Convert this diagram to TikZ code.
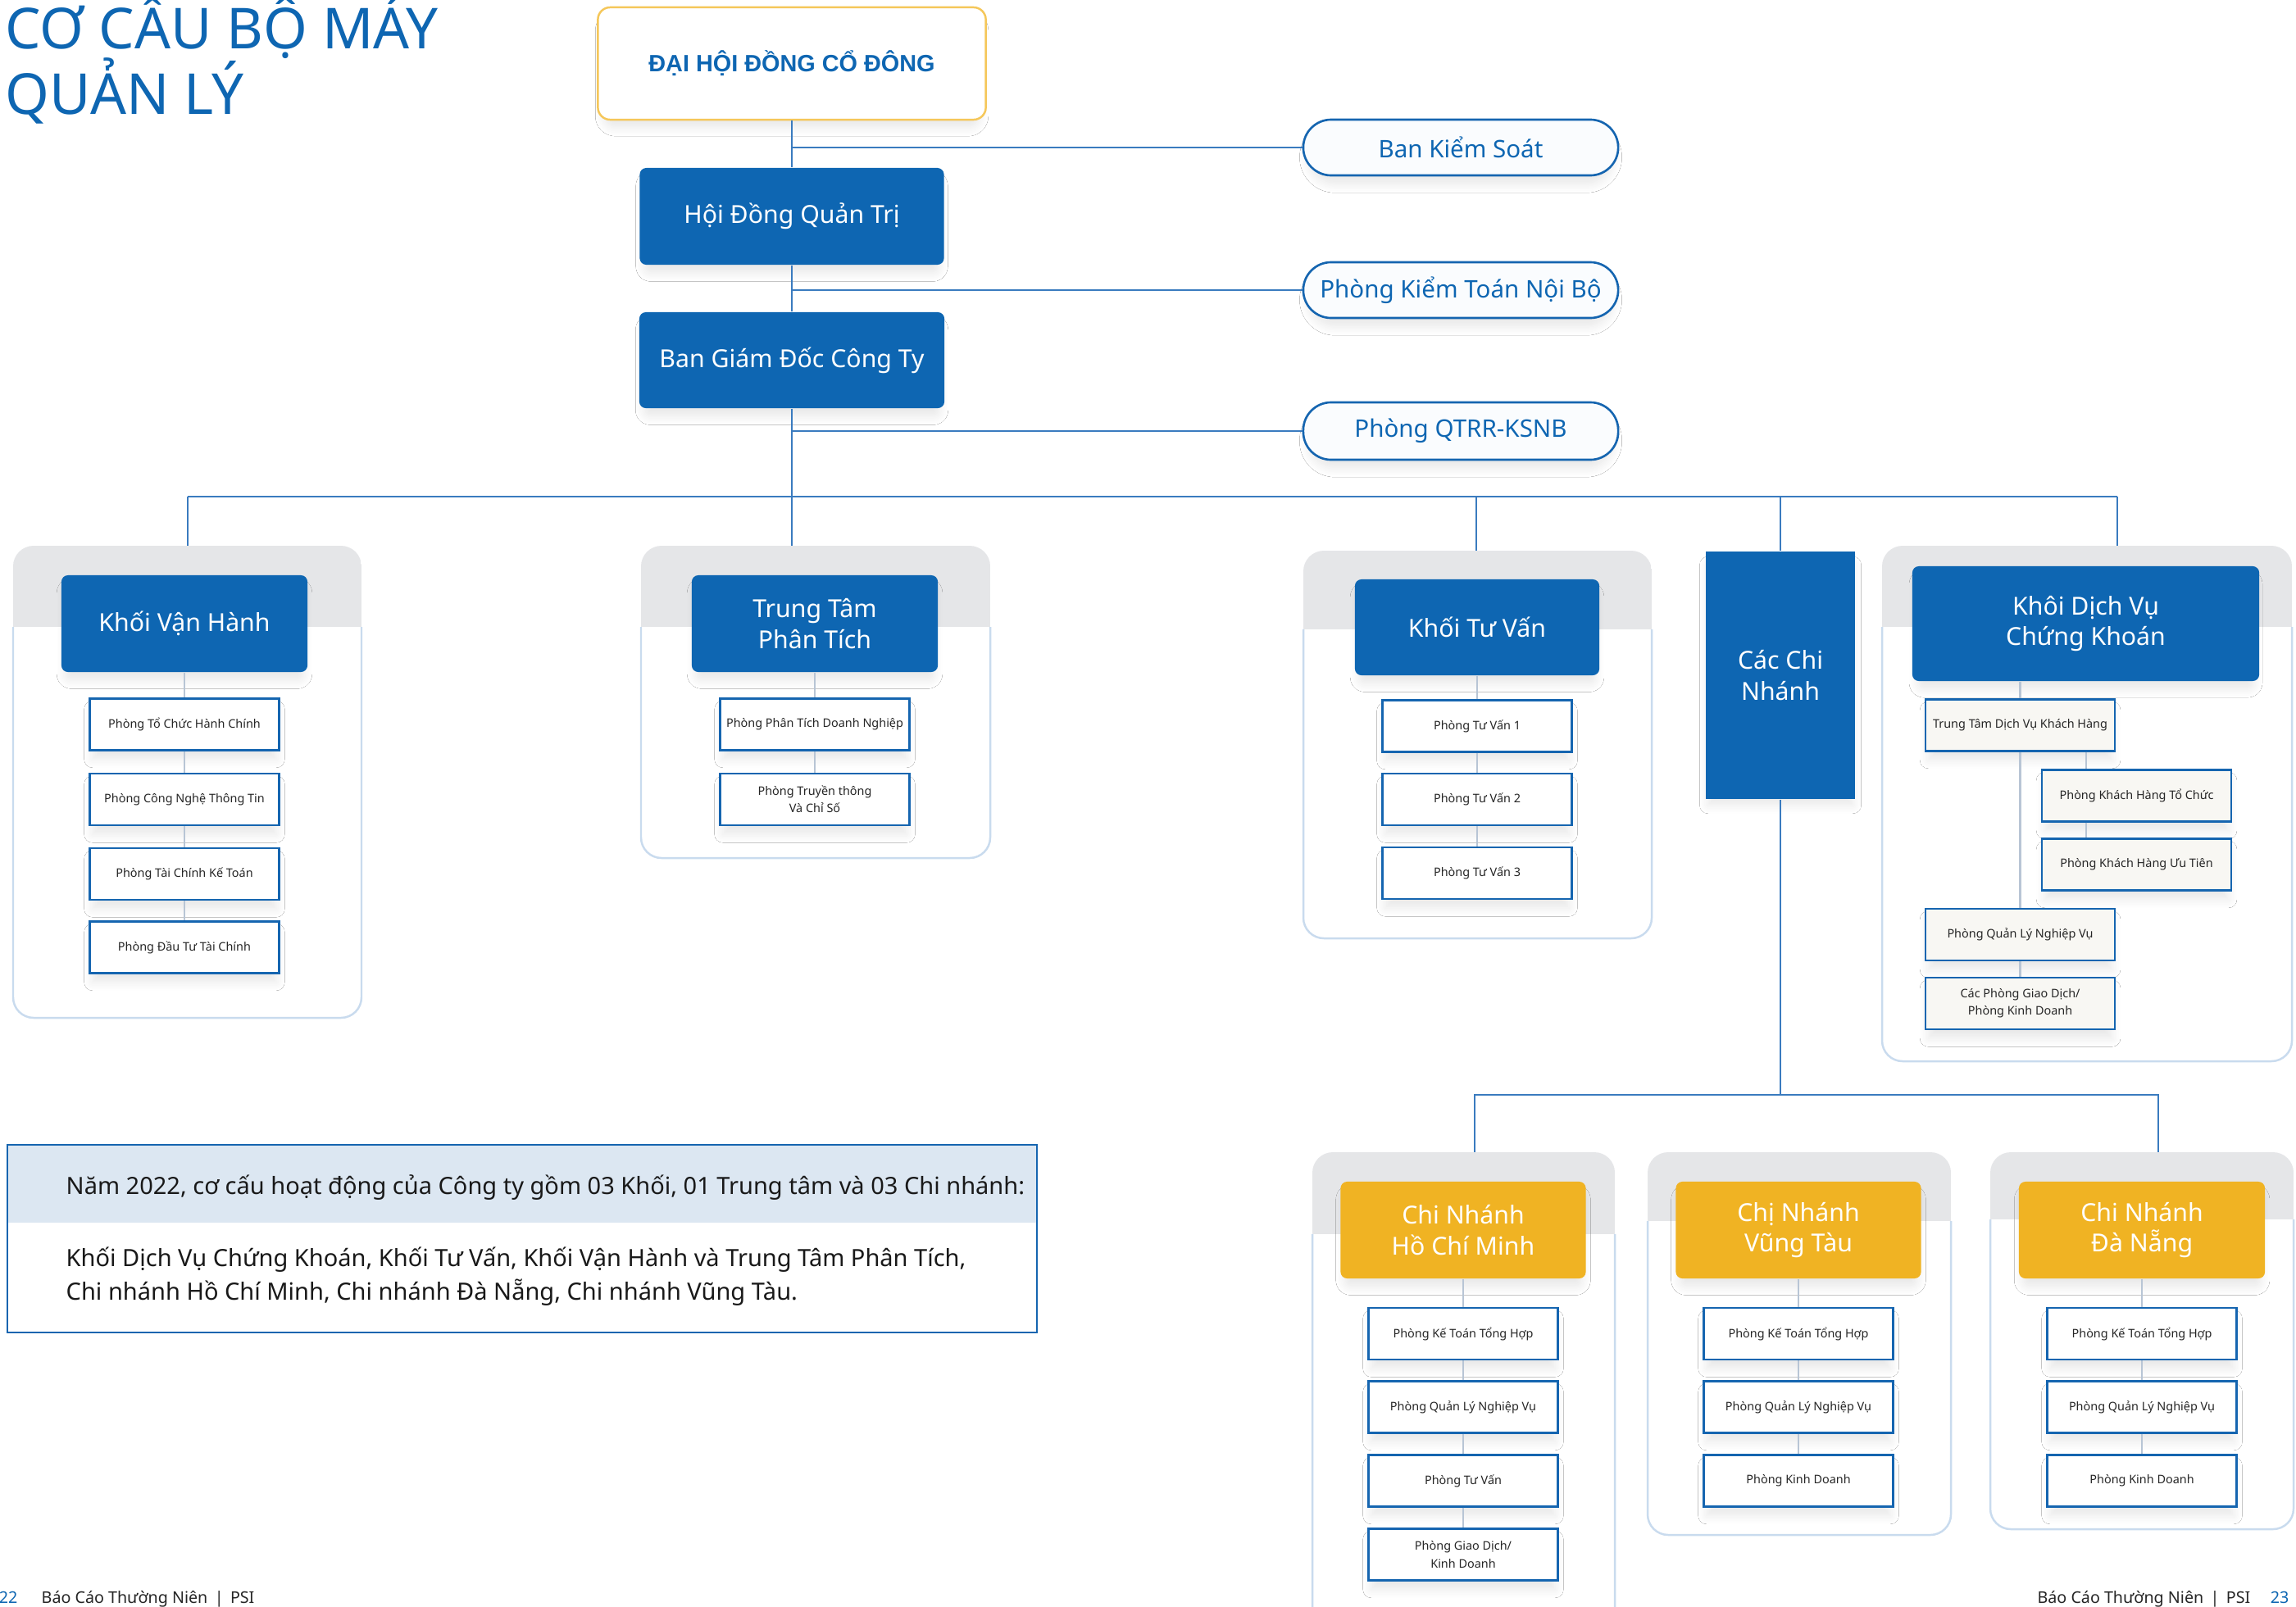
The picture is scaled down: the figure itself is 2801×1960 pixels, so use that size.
\documentclass[tikz,border=0pt]{standalone}
\usepackage{fontspec}
\setmainfont{Noto Sans}
\newfontfamily\boldlib{Liberation Sans}
\usetikzlibrary{shadows.blur}
\definecolor{mblue}{HTML}{0E66B2}
\definecolor{lblue}{HTML}{3A7BBF}
\definecolor{sblue}{HTML}{1565B0}
\definecolor{orng}{HTML}{F0B323}
\definecolor{orngb}{HTML}{F5C75A}
\definecolor{bandgray}{HTML}{E5E6E8}
\definecolor{pborder}{HTML}{C9DBEE}
\definecolor{inner}{HTML}{B8C5D5}
\definecolor{infoband}{HTML}{DCE7F2}
\definecolor{pillfill}{HTML}{FAFCFE}
\definecolor{dvfill}{HTML}{F8F7F3}
\newcommand\fHdr{\fontsize{8.6pt}{10.7pt}\selectfont}
\newcommand\fSub{\fontsize{4.1pt}{6pt}\selectfont}
\newcommand\fPill{\fontsize{8.4pt}{10pt}\selectfont}
\newcommand\fBig{\boldlib\bfseries\fontsize{8.2pt}{9.5pt}\selectfont}
\newcommand\fInfo{\fontsize{8.25pt}{11.7pt}\selectfont}
\newcommand\fTitle{\fontsize{19.6pt}{21.6pt}\selectfont}
\newcommand\fFoot{\fontsize{5.6pt}{7pt}\selectfont}
\newcommand\grpPanel[5]{%
  \begin{scope}
    \clip[rounded corners=0.25cm] (#1,#2) rectangle (#3,#4);
    \fill[white] (#1,#2) rectangle (#3,#4);
    \fill[bandgray] (#1,#2) rectangle (#3,#5);
  \end{scope}
  \draw[pborder, line width=0.7pt, rounded corners=0.25cm] (#1,#5) -- (#1,#4) -- (#3,#4) -- (#3,#5);
}
\begin{document}
\begin{tikzpicture}[x=0.01cm,y=-0.01cm,
  shd/.style={blur shadow={shadow xshift=0pt,shadow yshift=-3.5pt,shadow blur radius=3pt,shadow blur steps=6,shadow opacity=9,shadow scale=0.97}},
  conn/.style={draw=lblue, line width=0.6pt},
  inconn/.style={draw=inner, line width=0.7pt},
  hdr/.style={fill=mblue, text=white, rounded corners=0.08cm, font=\fHdr, align=center, inner sep=1pt, minimum width=3.00cm, minimum height=1.18cm, shd},
  ohdr/.style={hdr, fill=orng, minimum width=2.99cm},
  sub/.style={draw=sblue, line width=0.65pt, fill=white, minimum width=2.31cm, minimum height=0.63cm, inner sep=1pt, align=center, font=\fSub, text=black!85, shd},
  dvsub/.style={sub, fill=dvfill},
  pill/.style={draw=sblue, line width=0.75pt, fill=pillfill, rounded corners=0.34cm, text=mblue, font=\fPill, minimum width=3.84cm, minimum height=0.68cm, inner sep=1pt, shd}
]
\useasboundingbox (0,0) rectangle (2801,1960);
\fill[white] (0,0) rectangle (2801,1960);

% ---------- title ----------
\node[anchor=base west, inner sep=0, text=mblue, font=\fTitle] (title1) at (6,59) {CƠ CẤU BỘ MÁY};
\node[anchor=base west, inner sep=0, text=mblue, font=\fTitle] (title2) at (6,139) {QUẢN LÝ};

% ---------- panels ----------
\grpPanel{16}{666}{441}{1242}{765}
\grpPanel{782}{666}{1208}{1047}{765}
\grpPanel{1590}{672}{2015}{1145}{768}
\grpPanel{2296}{666}{2796}{1295}{765}
\grpPanel{1601}{1406}{1970}{2010}{1506}
\grpPanel{2010}{1406}{2380}{1873}{1490}
\grpPanel{2428}{1406}{2798}{1866}{1488}

% ---------- top nodes ----------
\node[draw=orngb, line width=0.7pt, fill=white, rounded corners=0.15cm, minimum width=4.73cm, minimum height=1.37cm, text=mblue, font=\fBig, shd] (dhd) at (966,77.5) {ĐẠI HỘI ĐỒNG CỔ ĐÔNG};
\node[hdr, minimum width=3.71cm, minimum height=1.18cm] (hdqt) at (966,264) {Hội Đồng Quản Trị};
\node[hdr, minimum width=3.72cm, minimum height=1.17cm] (bgd) at (966,439.5) {Ban Giám Đốc Công Ty};
\node[pill] (bks) at (1782,180) {Ban Kiểm Soát};
\node[pill] (pktnb) at (1782,354) {Phòng Kiểm Toán Nội Bộ};
\node[pill, minimum height=0.70cm] (qtrr) at (1782,526) {Phòng QTRR-KSNB};

% ---------- coordinates ----------
\coordinate (busL) at (229,606);
\coordinate (busR) at (2583,606);
\coordinate (p1top) at (229,666);
\coordinate (p2top) at (966,666);
\coordinate (p3top) at (1801,672);
\coordinate (p5top) at (2583,666);
\coordinate (brbus) at (2172,1336);
\coordinate (hcmtop) at (1799,1406);
\coordinate (dntop) at (2633,1406);

% ---------- main connectors ----------
\draw[conn] (dhd.south) -- (hdqt.north);
\draw[conn] (hdqt.south) -- (bgd.north);
\draw[conn] (dhd.south |- bks.west) -- (bks.west);
\draw[conn] (hdqt.south |- pktnb.west) -- (pktnb.west);
\draw[conn] (bgd.south |- qtrr.west) -- (qtrr.west);
\draw[conn] (bgd.south) -- (p2top);
\draw[conn] (busL) -- (busR);
\draw[conn] (busL) -- (p1top);
\draw[conn] (p3top |- busL) -- (p3top);
\draw[conn] (busR) -- (p5top);

% ---------- Khối Vận Hành ----------
\node[hdr] (kvh) at (225,761) {Khối Vận Hành};
\node[sub] (kvh1) at (225,884) {Phòng Tổ Chức Hành Chính};
\node[sub] (kvh2) at (225,975.5) {Phòng Công Nghệ Thông Tin};
\node[sub] (kvh3) at (225,1066.5) {Phòng Tài Chính Kế Toán};
\node[sub] (kvh4) at (225,1156) {Phòng Đầu Tư Tài Chính};
\draw[inconn] (kvh.south) -- (kvh1.north);
\draw[inconn] (kvh1.south) -- (kvh2.north);
\draw[inconn] (kvh2.south) -- (kvh3.north);
\draw[inconn] (kvh3.south) -- (kvh4.north);

% ---------- Trung Tâm Phân Tích ----------
\node[hdr] (ttpt) at (994,761) {Trung Tâm\\Phân Tích};
\node[sub] (tt1) at (994,884) {Phòng Phân Tích Doanh Nghiệp};
\node[sub] (tt2) at (994,975.5) {Phòng Truyền thông\\Và Chỉ Số};
\draw[inconn] (ttpt.south) -- (tt1.north);
\draw[inconn] (tt1.south) -- (tt2.north);

% ---------- Khối Tư Vấn ----------
\node[hdr, minimum width=2.98cm, minimum height=1.17cm] (ktv) at (1802,765.5) {Khối Tư Vấn};
\node[sub] (tv1) at (1802,886) {Phòng Tư Vấn 1};
\node[sub] (tv2) at (1802,975.5) {Phòng Tư Vấn 2};
\node[sub] (tv3) at (1802,1065.5) {Phòng Tư Vấn 3};
\draw[inconn] (ktv.south) -- (tv1.north);
\draw[inconn] (tv1.south) -- (tv2.north);
\draw[inconn] (tv2.south) -- (tv3.north);

% ---------- Các Chi Nhánh ----------
\node[hdr, rounded corners=0, minimum width=1.82cm, minimum height=3.02cm] (ccn) at (2172,824) {Các Chi\\Nhánh};
\draw[conn] (ccn.north |- busL) -- (ccn.north);
\draw[conn] (ccn.south) -- (brbus);
\draw[conn] (hcmtop) |- (dntop |- brbus) -- (dntop);

% ---------- Khối Dịch Vụ Chứng Khoán ----------
\node[hdr, minimum width=4.23cm, minimum height=1.40cm] (dvck) at (2544.5,761) {Khôi Dịch Vụ\\Chứng Khoán};
\node[dvsub] (dv1) at (2464.5,885) {Trung Tâm Dịch Vụ Khách Hàng};
\node[dvsub] (dv2) at (2606.5,971) {Phòng Khách Hàng Tổ Chức};
\node[dvsub] (dv3) at (2606.5,1055) {Phòng Khách Hàng Ưu Tiên};
\node[dvsub] (dv4) at (2464.5,1140.5) {Phòng Quản Lý Nghiệp Vụ};
\node[dvsub] (dv5) at (2464.5,1224.5) {Các Phòng Giao Dịch/\\Phòng Kinh Doanh};
\coordinate (dvx) at (2545,0);
\draw[inconn] (dv1.north |- dvck.south) -- (dv1.north);
\draw[inconn] (dv1.south) -- (dv4.north);
\draw[inconn] (dv4.south) -- (dv5.north);
\draw[inconn] (dv1.south -| dvx) -- (dv2.north -| dvx);
\draw[inconn] (dv2.south -| dvx) -- (dv3.north -| dvx);

% ---------- Chi nhánh HCM ----------
\node[ohdr] (hcm) at (1785,1501) {Chi Nhánh\\Hồ Chí Minh};
\node[sub] (hcm1) at (1785,1627.5) {Phòng Kế Toán Tổng Hợp};
\node[sub] (hcm2) at (1785,1717) {Phòng Quản Lý Nghiệp Vụ};
\node[sub] (hcm3) at (1785,1807) {Phòng Tư Vấn};
\node[sub] (hcm4) at (1785,1897) {Phòng Giao Dịch/\\Kinh Doanh};
\draw[inconn] (hcm.south) -- (hcm1.north);
\draw[inconn] (hcm1.south) -- (hcm2.north);
\draw[inconn] (hcm2.south) -- (hcm3.north);
\draw[inconn] (hcm3.south) -- (hcm4.north);

% ---------- Chi nhánh Vũng Tàu ----------
\node[ohdr] (vt) at (2194,1501) {Chị Nhánh\\Vũng Tàu};
\node[sub] (vt1) at (2194,1627.5) {Phòng Kế Toán Tổng Hợp};
\node[sub] (vt2) at (2194,1717) {Phòng Quản Lý Nghiệp Vụ};
\node[sub] (vt3) at (2194,1807) {Phòng Kinh Doanh};
\draw[inconn] (vt.south) -- (vt1.north);
\draw[inconn] (vt1.south) -- (vt2.north);
\draw[inconn] (vt2.south) -- (vt3.north);

% ---------- Chi nhánh Đà Nẵng ----------
\node[ohdr, minimum width=3.00cm] (dn) at (2613,1501) {Chi Nhánh\\Đà Nẵng};
\node[sub] (dn1) at (2613,1627.5) {Phòng Kế Toán Tổng Hợp};
\node[sub] (dn2) at (2613,1717) {Phòng Quản Lý Nghiệp Vụ};
\node[sub] (dn3) at (2613,1807) {Phòng Kinh Doanh};
\draw[inconn] (dn.south) -- (dn1.north);
\draw[inconn] (dn1.south) -- (dn2.north);
\draw[inconn] (dn2.south) -- (dn3.north);

% ---------- info box ----------
\fill[infoband] (9,1397) rectangle (1265,1492);
\draw[sblue, line width=0.7pt] (9,1397) rectangle (1265,1626);
\node[anchor=west, inner sep=0, font=\fInfo, text=black!90] (info1) at (80,1449) {Năm 2022, cơ cấu hoạt động của Công ty gồm 03 Khối, 01 Trung tâm và 03 Chi nhánh:};
\node[anchor=west, inner sep=0, font=\fInfo, text=black!90, align=left] (info2) at (80,1558) {Khối Dịch Vụ Chứng Khoán, Khối Tư Vấn, Khối Vận Hành và Trung Tâm Phân Tích,\\Chi nhánh Hồ Chí Minh, Chi nhánh Đà Nẵng, Chi nhánh Vũng Tàu.};

% ---------- footer ----------
\node[anchor=base east, inner sep=0, font=\fFoot, text=mblue] (pg22) at (22,1956) {22};
\node[anchor=base west, inner sep=0, font=\fFoot, text=black!85] (foot1) at (50,1956) {Báo Cáo Thường Niên \,|\, PSI};
\node[anchor=base east, inner sep=0, font=\fFoot, text=black!85] (foot2) at (2746,1956) {Báo Cáo Thường Niên \,|\, PSI};
\node[anchor=base west, inner sep=0, font=\fFoot, text=mblue] (pg23) at (2769,1956) {23};
\end{tikzpicture}
\end{document}
